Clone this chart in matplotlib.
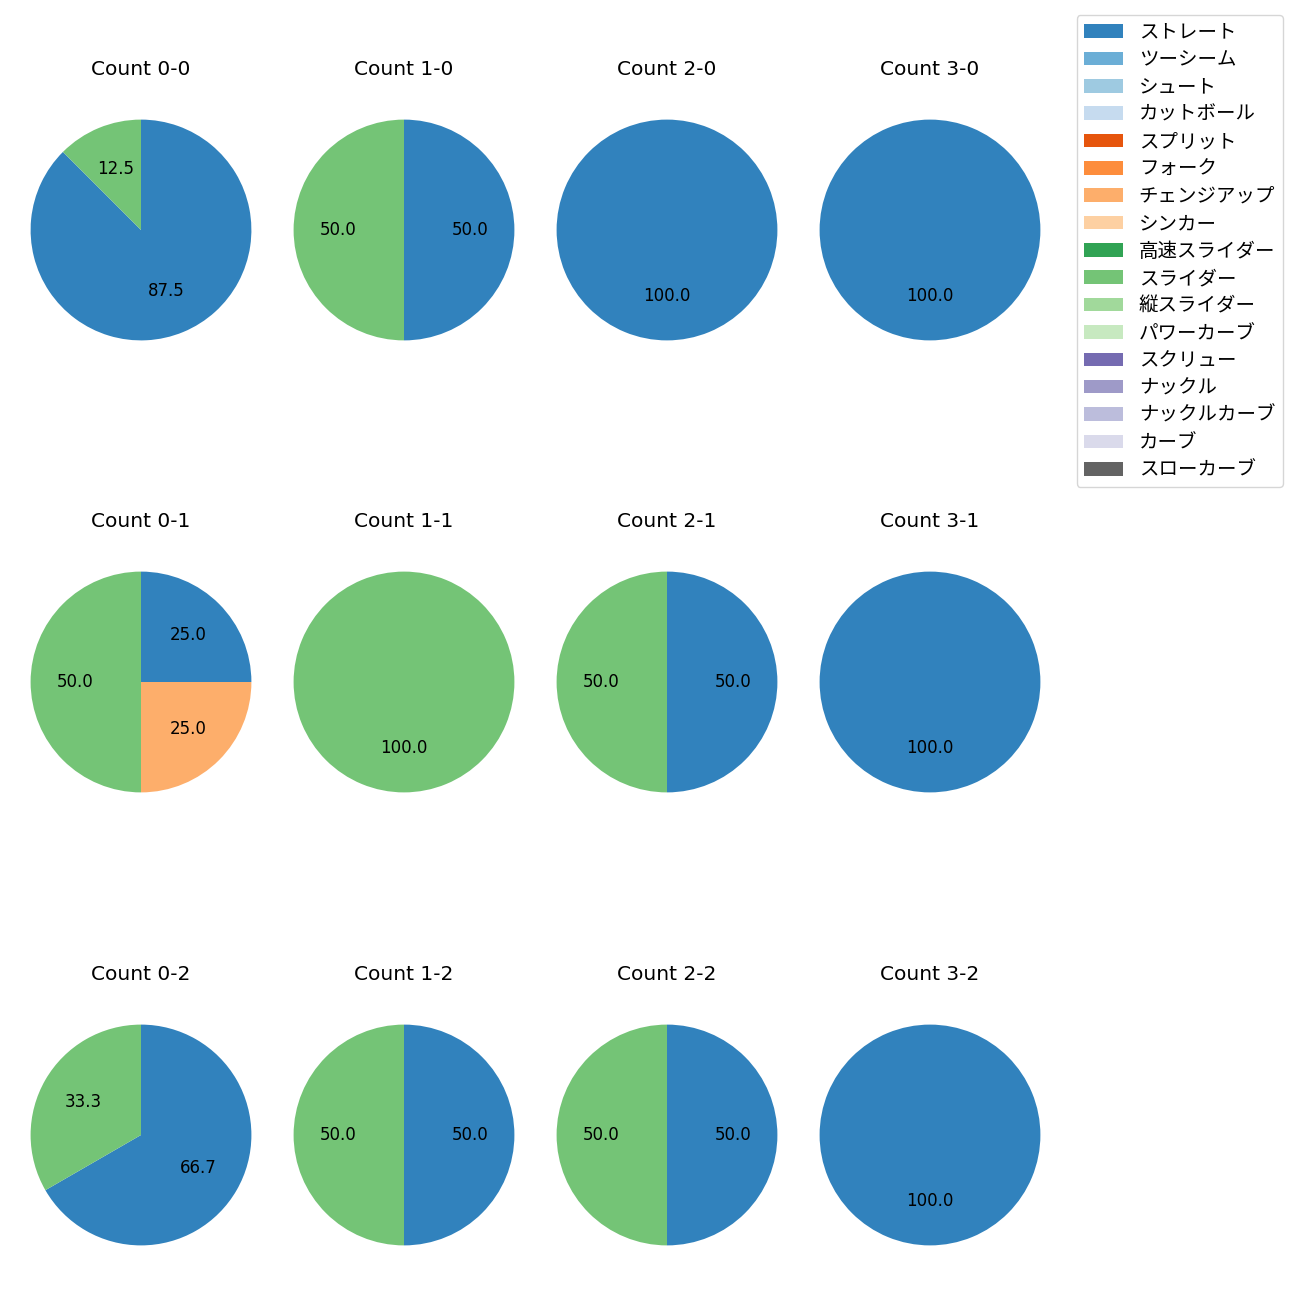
import numpy as np
import matplotlib
matplotlib.use("Agg")
import matplotlib.pyplot as plt
from matplotlib.patches import Patch

plt.rcParams['font.family'] = ['DejaVu Sans', 'Noto Sans CJK JP']

# Pitch types and colours (tab20c order)
pitch_types = ['ストレート', 'ツーシーム', 'シュート', 'カットボール', 'スプリット', 'フォーク',
               'チェンジアップ', 'シンカー', '高速スライダー', 'スライダー', '縦スライダー',
               'パワーカーブ', 'スクリュー', 'ナックル', 'ナックルカーブ', 'カーブ', 'スローカーブ']
pitch_colors = ['#3182bd', '#6baed6', '#9ecae1', '#c6dbef', '#e6550d', '#fd8d3c',
                '#fdae6b', '#fdd0a2', '#31a354', '#74c476', '#a1d99b', '#c7e9c0',
                '#756bb1', '#9e9ac8', '#bcbddc', '#dadaeb', '#636363']

# Pitch counts per ball-strike count
balls = [0, 1, 2, 3]
strikes = [0, 1, 2]
count_data = {
    '0-0': {'ストレート': 7, 'スライダー': 1},
    '1-0': {'ストレート': 1, 'スライダー': 1},
    '2-0': {'ストレート': 1},
    '3-0': {'ストレート': 1},
    '0-1': {'ストレート': 1, 'チェンジアップ': 1, 'スライダー': 2},
    '1-1': {'スライダー': 1},
    '2-1': {'ストレート': 1, 'スライダー': 1},
    '3-1': {'ストレート': 1},
    '0-2': {'ストレート': 2, 'スライダー': 1},
    '1-2': {'ストレート': 1, 'スライダー': 1},
    '2-2': {'ストレート': 1, 'スライダー': 1},
    '3-2': {'ストレート': 1},
}

fig = plt.figure(figsize=(13, 13), dpi=100)

# pie centres in pixels
col_x = [141, 404, 667, 930]
row_y = [230, 682, 1135]
side = 276

for r, s in enumerate(strikes):
    for c, b in enumerate(balls):
        key = f'{b}-{s}'
        ax = fig.add_axes([(col_x[c] - side / 2) / 1300, 1 - (row_y[r] + side / 2) / 1300,
                           side / 1300, side / 1300])
        data = count_data[key]
        names = [p for p in pitch_types if data.get(p, 0) > 0]
        vals = [data[p] for p in names]
        cols = [pitch_colors[pitch_types.index(p)] for p in names]
        ax.pie(vals, colors=cols, autopct='%.1f', startangle=90, counterclock=False,
               textprops={'fontsize': 12})
        ax.set_title(f'Count {key}', fontsize=14.5, pad=12)

handles = [Patch(facecolor=col, label=p) for p, col in zip(pitch_types, pitch_colors)]
fig.legend(handles=handles, loc='upper right', bbox_to_anchor=(1283 / 1300, 1 - 15 / 1300),
           borderaxespad=0, fontsize=14, labelspacing=0.43)

fig.savefig('out.png', dpi=100)
